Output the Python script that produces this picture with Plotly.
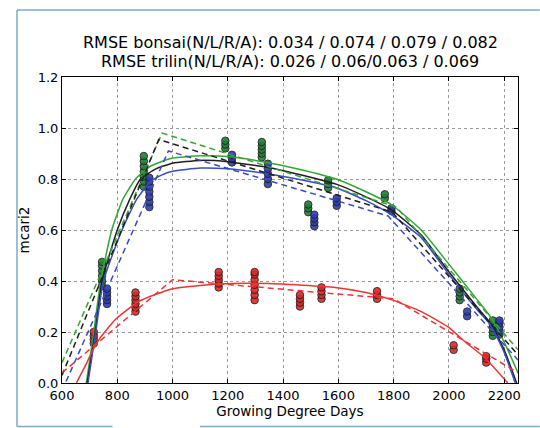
import plotly.graph_objects as go

# ---------------- data ----------------
title_lines = ["RMSE bonsai(N/L/R/A): 0.034 / 0.074 / 0.079 / 0.082",
               "RMSE trilin(N/L/R/A): 0.026 / 0.06/0.063 / 0.069"]
x_label = "Growing Degree Days"
y_label = "mcari2"
x_ticks = [600, 800, 1000, 1200, 1400, 1600, 1800, 2000, 2200]
y_ticks = [0.0, 0.2, 0.4, 0.6, 0.8, 1.0, 1.2]

# observation clusters: x position and measured values
green_obs_x = [745, 896, 1191, 1323, 1491, 1563, 1768, 2039, 2159]
green_obs_y = [[0.38, 0.40, 0.42, 0.44, 0.46, 0.475],
               [0.77, 0.79, 0.81, 0.83, 0.85, 0.87, 0.89],
               [0.92, 0.935, 0.95],
               [0.885, 0.90, 0.915, 0.93, 0.945],
               [0.67, 0.685, 0.70],
               [0.765, 0.78, 0.795],
               [0.725, 0.74],
               [0.325, 0.34, 0.355, 0.37],
               [0.185, 0.20, 0.215, 0.23, 0.245]]

blue_obs_x = [763, 916, 1215, 1345, 1513, 1594, 1792, 2066, 2183]
blue_obs_y = [[0.31, 0.325, 0.34, 0.355, 0.37],
              [0.69, 0.71, 0.73, 0.75, 0.77, 0.79, 0.805],
              [0.865, 0.88, 0.895],
              [0.78, 0.80, 0.82, 0.84, 0.86],
              [0.615, 0.63, 0.645, 0.66],
              [0.695, 0.71, 0.725],
              [0.675, 0.685],
              [0.262, 0.28],
              [0.19, 0.205, 0.22, 0.235, 0.245]]

red_obs_x = [715, 866, 1167, 1297, 1461, 1539, 1740, 2017, 2135]
red_obs_y = [[0.155, 0.17, 0.185, 0.20],
             [0.28, 0.295, 0.31, 0.325, 0.34, 0.355],
             [0.375, 0.39, 0.405, 0.42, 0.435],
             [0.325, 0.345, 0.365, 0.385, 0.405, 0.425, 0.435],
             [0.30, 0.315, 0.33, 0.345],
             [0.33, 0.345, 0.36, 0.375],
             [0.33, 0.345, 0.36],
             [0.13, 0.148],
             [0.08, 0.095, 0.105]]

# smooth ("bonsai") fits
green_fit_x = [688, 715, 740, 780, 820, 866, 920, 1000, 1100, 1200, 1347, 1450, 1592, 1700, 1791, 1900, 1997, 2100, 2150, 2200, 2250]
green_fit_y = [0.0, 0.2, 0.4, 0.6, 0.72, 0.8, 0.85, 0.882, 0.891, 0.888, 0.864, 0.84, 0.80, 0.75, 0.70, 0.60, 0.47, 0.33, 0.26, 0.16, 0.04]
black_fit_x = [691, 720, 745, 800, 845, 884, 940, 1000, 1100, 1200, 1347, 1450, 1592, 1700, 1791, 1900, 1997, 2100, 2150, 2200, 2245]
black_fit_y = [0.0, 0.2, 0.4, 0.6, 0.72, 0.8, 0.84, 0.862, 0.873, 0.868, 0.845, 0.82, 0.78, 0.73, 0.68, 0.58, 0.44, 0.30, 0.235, 0.13, 0.0]
blue_fit_x = [694, 722, 750, 817, 870, 920, 960, 1000, 1100, 1200, 1347, 1450, 1592, 1700, 1791, 1900, 1997, 2100, 2150, 2200, 2240]
blue_fit_y = [0.0, 0.2, 0.4, 0.6, 0.72, 0.79, 0.815, 0.83, 0.843, 0.84, 0.82, 0.80, 0.766, 0.715, 0.66, 0.57, 0.43, 0.29, 0.228, 0.12, 0.0]
red_fit_x = [652, 690, 712, 740, 794, 878, 1000, 1167, 1347, 1588, 1700, 1791, 1900, 1997, 2060, 2129, 2213]
red_fit_y = [0.0, 0.08, 0.13, 0.18, 0.25, 0.32, 0.37, 0.388, 0.39, 0.375, 0.355, 0.327, 0.28, 0.22, 0.16, 0.10, 0.0]

# trilinear fits (break points)
green_tri_x = [600, 962, 1810, 2250]
green_tri_y = [0.08, 0.98, 0.69, 0.13]
black_tri_x = [600, 950, 1795, 2250]
black_tri_y = [0.03, 0.955, 0.67, 0.11]
blue_tri_x = [600, 985, 1780, 2250]
blue_tri_y = [-0.03, 0.91, 0.655, 0.09]
red_tri_x = [600, 1000, 1800, 2250]
red_tri_y = [0.04, 0.405, 0.33, 0.04]

# ---------------- styles ----------------
FONT = "DejaVu Sans"
C_GREEN_LINE, C_GREEN_MK = "#35a535", "#1f7f35"
C_BLUE_LINE, C_BLUE_MK = "#3a4bc2", "#2b3cb5"
C_RED_LINE, C_RED_MK = "#ee3535", "#e02525"
C_BLACK = "#1e1e1e"


def flatten(xs, yss):
    fx, fy = [], []
    for x, ys in zip(xs, yss):
        for y in ys:
            fx.append(x)
            fy.append(y)
    return fx, fy


fig = go.Figure()

for xs, yss, col in [(red_obs_x, red_obs_y, C_RED_MK),
                     (green_obs_x, green_obs_y, C_GREEN_MK),
                     (blue_obs_x, blue_obs_y, C_BLUE_MK)]:
    fx, fy = flatten(xs, yss)
    fig.add_trace(go.Scatter(x=fx, y=fy, mode="markers",
                             marker=dict(size=7.5, color=col, opacity=0.9,
                                         line=dict(color="#202020", width=1)),
                             showlegend=False, hoverinfo="skip"))

for xs, ys, col in [(green_fit_x, green_fit_y, C_GREEN_LINE),
                    (black_fit_x, black_fit_y, C_BLACK),
                    (blue_fit_x, blue_fit_y, C_BLUE_LINE),
                    (red_fit_x, red_fit_y, C_RED_LINE)]:
    fig.add_trace(go.Scatter(x=xs, y=ys, mode="lines",
                             line=dict(color=col, width=1.5, shape="spline", smoothing=0.5),
                             showlegend=False, hoverinfo="skip"))

for xs, ys, col in [(green_tri_x, green_tri_y, C_GREEN_LINE),
                    (black_tri_x, black_tri_y, C_BLACK),
                    (blue_tri_x, blue_tri_y, C_BLUE_LINE),
                    (red_tri_x, red_tri_y, C_RED_LINE)]:
    fig.add_trace(go.Scatter(x=xs, y=ys, mode="lines",
                             line=dict(color=col, width=1.5, dash="6px,4px"),
                             showlegend=False, hoverinfo="skip"))

axis_common = dict(showline=True, linecolor="black", linewidth=1, mirror="allticks",
                   ticks="inside", ticklen=4, tickcolor="black",
                   showgrid=True, gridcolor="#9a9a9a", griddash="dot", gridwidth=1,
                   zeroline=False, tickfont=dict(family=FONT, size=13, color="black"))

fig.update_xaxes(range=[600, 2250], tickvals=x_ticks,
                 title=dict(text=x_label, font=dict(family=FONT, size=13.5, color="black"), standoff=2),
                 **axis_common)
fig.update_yaxes(range=[0, 1.2], tickvals=y_ticks, tickformat=".1f",
                 title=dict(text=y_label, font=dict(family=FONT, size=13.5, color="black"), standoff=4),
                 **axis_common)

annotations = []
for i, t in enumerate(title_lines):
    annotations.append(dict(text=t, xref="paper", yref="paper", x=0.5, y=[1.112, 1.050][i],
                            xanchor="center", yanchor="middle", showarrow=False,
                            font=dict(family=FONT, size=16, color="black")))

# light frame around the picture
frame_col = "#78acc4"
shapes = [
    dict(type="line", xref="paper", yref="paper", x0=-0.0987, x1=1.048, y0=1.2188, y1=1.2188,
         line=dict(color=frame_col, width=1.5)),
    dict(type="line", xref="paper", yref="paper", x0=-0.0987, x1=-0.0987, y0=1.2188, y1=-0.142,
         line=dict(color=frame_col, width=1.5)),
    dict(type="line", xref="paper", yref="paper", x0=-0.0987, x1=0.1108, y0=-0.142, y1=-0.142,
         line=dict(color=frame_col, width=1.5)),
    dict(type="line", xref="paper", yref="paper", x0=0.3026, x1=1.048, y0=-0.142, y1=-0.142,
         line=dict(color=frame_col, width=1.5)),
]

fig.update_layout(width=540, height=428,
                  margin=dict(l=62, r=22, t=77, b=45),
                  paper_bgcolor="white", plot_bgcolor="white",
                  font=dict(family=FONT, size=13, color="black"),
                  annotations=annotations, shapes=shapes)

fig.write_html("out.html", config={"displayModeBar": False},
               post_script="document.body.style.margin='0';document.body.style.overflow='hidden';")
